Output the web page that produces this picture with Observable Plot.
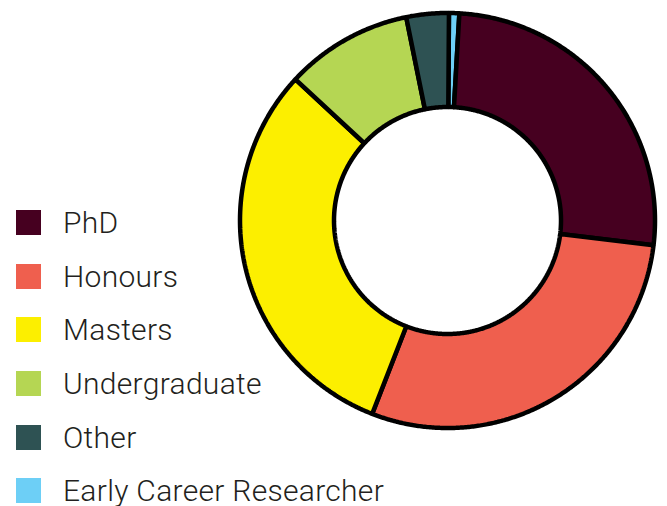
<!DOCTYPE html>
<html><head><meta charset="utf-8">
<script src="https://cdn.jsdelivr.net/npm/d3@7"></script>
<script src="https://cdn.jsdelivr.net/npm/@observablehq/plot@0.6"></script>
<style>
body{margin:0;background:#fff;}
#wrap{position:relative;width:667px;height:506px;overflow:hidden;}
#chart{position:absolute;left:0;top:0;}
#legend{position:absolute;left:16px;top:196px;font-family:Roboto,"Liberation Sans",sans-serif;font-weight:300;font-size:30px;letter-spacing:0.3px;color:#231f20;}
.row{display:flex;align-items:center;height:53.6px;white-space:nowrap;}
.sw{width:25px;height:25px;margin-right:22px;flex:none;}
</style></head><body>
<div id="wrap"><div id="chart"></div><div id="legend"></div></div>
<script>
// Slices in clockwise order from 12 o'clock
const categories = ["Early Career Researcher", "PhD", "Honours", "Masters", "Undergraduate", "Other"];
const values = [0.8, 26.0, 29.0, 31.0, 9.9, 3.3]; // percent
const colors = ["#6dcff6", "#460020", "#ef5f4e", "#fcef00", "#b5d653", "#2e5253"];
const legendOrder = ["PhD", "Honours", "Masters", "Undergraduate", "Other", "Early Career Researcher"];

const data = categories.map((c, i) => ({category: c, value: values[i]}));
const outerR = 1, innerR = 113.5 / 207.5;
const arcs = d3.pie().sort(null).value(d => d.value).startAngle(0.4 * Math.PI / 180)
  .endAngle(2 * Math.PI + 0.4 * Math.PI / 180)(data);

// Build each slice outline from the pie angles
const pts = [];
for (const a of arcs) {
  const n = Math.max(2, Math.ceil((a.endAngle - a.startAngle) / (0.4 * Math.PI / 180)));
  for (let k = 0; k <= n; k++) {
    const t = a.startAngle + (a.endAngle - a.startAngle) * k / n;
    pts.push({category: a.data.category, x: Math.sin(t) * outerR, y: Math.cos(t) * outerR});
  }
  for (let k = n; k >= 0; k--) {
    const t = a.startAngle + (a.endAngle - a.startAngle) * k / n;
    pts.push({category: a.data.category, x: Math.sin(t) * innerR, y: Math.cos(t) * innerR});
  }
}

const R = 207.5, cx = 447, cy = 220;
const chart = Plot.plot({
  width: 667,
  height: 506,
  margin: 0,
  x: {domain: [-1, 1], range: [cx - R, cx + R], axis: null},
  y: {domain: [-1, 1], range: [cy + R, cy - R], axis: null},
  color: {domain: categories, range: colors},
  marks: [
    Plot.line(pts, {x: "x", y: "y", z: "category", fill: "category", stroke: "#000",
      strokeWidth: 4.5, strokeLinejoin: "miter", curve: "linear-closed"})
  ]
});
document.getElementById("chart").appendChild(chart);

const legend = document.getElementById("legend");
for (const c of legendOrder) {
  const row = document.createElement("div");
  row.className = "row";
  const sw = document.createElement("div");
  sw.className = "sw";
  sw.style.background = colors[categories.indexOf(c)];
  const label = document.createElement("span");
  label.textContent = c;
  row.appendChild(sw);
  row.appendChild(label);
  legend.appendChild(row);
}
</script>
</body></html>
